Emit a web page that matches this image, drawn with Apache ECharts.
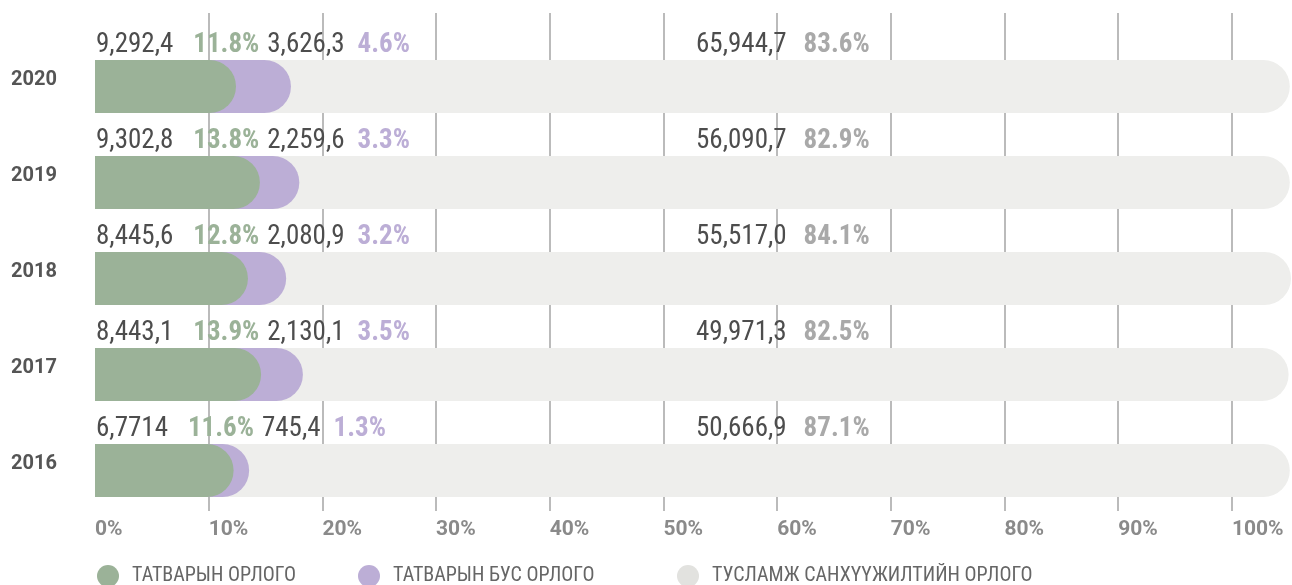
<!DOCTYPE html>
<html>
<head>
<meta charset="utf-8">
<title>Орлогын бүтэц</title>
<script src="https://cdn.jsdelivr.net/npm/echarts@6/dist/echarts.min.js"></script>
<style>
  html, body { margin: 0; padding: 0; background: #fff; }
  #main { width: 1292px; height: 585px; }
</style>
</head>
<body>
<div id="main"></div>
<script>
  // он
  var years = ['2020', '2019', '2018', '2017', '2016'];
  // татварын орлого
  var taxValue = ['9,292,4', '9,302,8', '8,445,6', '8,443,1', '6,7714'];
  var taxPct = [11.8, 13.8, 12.8, 13.9, 11.6];
  // татварын бус орлого
  var nonTaxValue = ['3,626,3', '2,259,6', '2,080,9', '2,130,1', '745,4'];
  var nonTaxPct = [4.6, 3.3, 3.2, 3.5, 1.3];
  // тусламж санхүүжилтийн орлого
  var aidValue = ['65,944,7', '56,090,7', '55,517,0', '49,971,3', '50,666,9'];
  var aidPct = [83.6, 82.9, 84.1, 82.5, 87.1];
  // доод тэнхлэгийн хуваарь
  var tickStep = 10;
  var tickMax = 100;

  var names = ['ТАТВАРЫН ОРЛОГО', 'ТАТВАРЫН БУС ОРЛОГО', 'ТУСЛАМЖ САНХҮҮЖИЛТИЙН ОРЛОГО'];
  var colors = ['#9bb298', '#bcaed6', '#eeeeec'];
  var legendColors = ['#9bb298', '#bcaed6', '#e2e2df'];
  var legendLeft = [97, 358, 677];
  var narrow = "'Liberation Sans Narrow', 'Roboto Condensed', 'DejaVu Sans Condensed', sans-serif";

  // давхцуулж зурах тул хуримтлагдсан утга
  var purpleEnd = [];
  var greyEnd = [];
  for (var i = 0; i < years.length; i++) {
    purpleEnd.push(+(taxPct[i] + nonTaxPct[i]).toFixed(1));
    greyEnd.push(+(taxPct[i] + nonTaxPct[i] + aidPct[i]).toFixed(1));
  }

  var radius = [0, 27, 27, 0];

  // легенд тус бүрийг тогтмол байрлалд
  var legends = names.map(function (n, k) {
    return {
      data: [{ name: n, itemStyle: { color: legendColors[k] } }],
      left: legendLeft[k],
      top: 565,
      padding: 0,
      icon: 'circle',
      itemWidth: 22,
      itemHeight: 22,
      selectedMode: false,
      textStyle: {
        fontFamily: narrow,
        fontSize: 20,
        lineHeight: 22,
        color: '#666',
        padding: [0, 0, 0, 8]
      }
    };
  });

  var myChart = echarts.init(document.getElementById('main'));
  var options = {
    animation: false,
    textStyle: { fontFamily: 'Roboto' },
    grid: [
      // баганууд
      { left: 95, right: 1, top: 38.5, bottom: 66.5 },
      // босоо шугам, хувийн тэмдэглэгээ
      { left: 95, right: 1, top: 13, bottom: 74 }
    ],
    legend: legends,
    xAxis: [
      {
        gridIndex: 0,
        type: 'value',
        min: 0,
        max: 100.1,
        show: false
      },
      {
        gridIndex: 1,
        type: 'value',
        min: 0,
        max: 105.2,
        interval: tickStep,
        position: 'bottom',
        axisLine: { show: false },
        axisTick: { show: false },
        splitLine: {
          show: true,
          showMaxLine: false,
          showMinLine: false,
          lineStyle: { color: '#a4a4a4', width: 1.5 }
        },
        axisLabel: {
          margin: 8,
          align: 'left',
          fontFamily: 'Roboto',
          fontWeight: 'bold',
          fontSize: 21,
          color: '#8a8a8a',
          showMaxLabel: false,
          formatter: function (v) {
            return v > tickMax ? '' : v + '%';
          }
        }
      }
    ],
    yAxis: [
      {
        gridIndex: 0,
        type: 'category',
        inverse: true,
        data: years,
        axisLine: { show: false },
        axisTick: { show: false },
        axisLabel: {
          margin: 38,
          fontFamily: 'Roboto',
          fontWeight: 'bold',
          fontSize: 20,
          color: '#555',
          verticalAlign: 'bottom',
          lineHeight: 14
        }
      },
      {
        gridIndex: 1,
        type: 'value',
        min: 0,
        max: 1,
        show: false
      }
    ],
    series: [
      {
        name: names[0],
        type: 'bar',
        xAxisIndex: 0,
        yAxisIndex: 0,
        barWidth: 53,
        barGap: '-100%',
        z: 4,
        itemStyle: { color: colors[0], borderRadius: radius },
        label: {
          show: true,
          position: [1, -15],
          align: 'left',
          verticalAlign: 'middle',
          formatter: function (p) {
            var k = p.dataIndex;
            return '{v|' + taxValue[k] + '}{g|' + taxPct[k] + '%}{v2|' + nonTaxValue[k] + '}{p|' + nonTaxPct[k] + '%}';
          },
          rich: {
            v: { fontFamily: narrow, fontSize: 27, color: '#4d4d4d' },
            g: { fontFamily: narrow, fontSize: 27, fontWeight: 'bold', color: colors[0], padding: [0, 0, 0, 20] },
            v2: { fontFamily: narrow, fontSize: 27, color: '#4d4d4d', padding: [0, 0, 0, 8] },
            p: { fontFamily: narrow, fontSize: 27, fontWeight: 'bold', color: colors[1], padding: [0, 0, 0, 13] }
          }
        },
        data: taxPct
      },
      {
        name: names[1],
        type: 'bar',
        xAxisIndex: 0,
        yAxisIndex: 0,
        barWidth: 53,
        barGap: '-100%',
        z: 3,
        itemStyle: { color: colors[1], borderRadius: radius },
        data: purpleEnd
      },
      {
        name: names[2],
        type: 'bar',
        xAxisIndex: 0,
        yAxisIndex: 0,
        barWidth: 53,
        barGap: '-100%',
        z: 2,
        itemStyle: { color: colors[2], borderRadius: radius },
        label: {
          show: true,
          position: [601, -15],
          align: 'left',
          verticalAlign: 'middle',
          formatter: function (p) {
            var k = p.dataIndex;
            return '{v|' + aidValue[k] + '}{a|' + aidPct[k] + '%}';
          },
          rich: {
            v: { fontFamily: narrow, fontSize: 27, color: '#4d4d4d' },
            a: { fontFamily: narrow, fontSize: 27, fontWeight: 'bold', color: '#a9a9a9', padding: [0, 0, 0, 17] }
          }
        },
        data: greyEnd
      }
    ]
  };
  myChart.setOption(options);
</script>
</body>
</html>
